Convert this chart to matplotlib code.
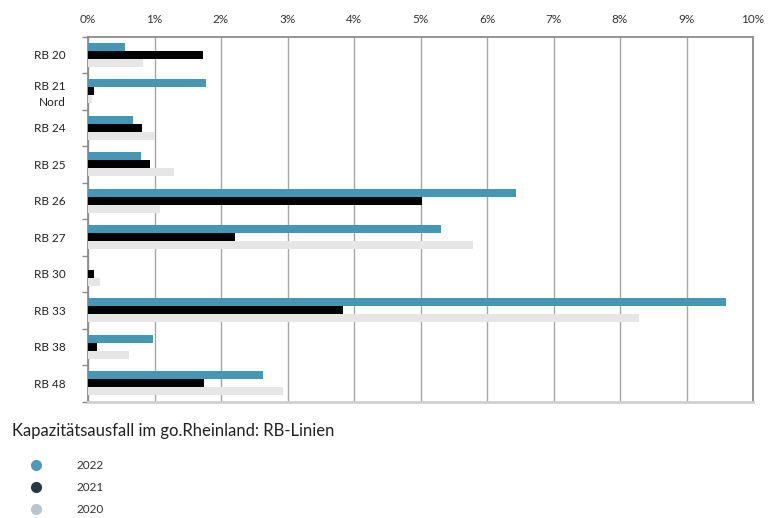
import matplotlib
matplotlib.use("Agg")
import matplotlib.pyplot as plt
from matplotlib.lines import Line2D
from matplotlib.ticker import FuncFormatter, MultipleLocator
import numpy as np

plt.rcParams['font.family'] = ['Lato', 'DejaVu Sans']

categories = ["RB 20", "RB 21\nNord", "RB 24", "RB 25", "RB 26", "RB 27", "RB 30", "RB 33", "RB 38", "RB 48"]
v2022 = [0.56, 1.78, 0.67, 0.80, 6.43, 5.31, 0.0, 9.59, 0.98, 2.63]
v2021 = [1.73, 0.09, 0.81, 0.93, 5.03, 2.21, 0.095, 3.83, 0.14, 1.75]
v2020 = [0.82, 0.065, 1.00, 1.30, 1.09, 5.79, 0.18, 8.29, 0.61, 2.93]
years = ["2022", "2021", "2020"]
bar_colors = ["#4597b5", "#000000", "#e6e6e6"]
legend_colors = ["#4a9bbb", "#253845", "#b9c4cc"]
title = "Kapazitätsausfall im go.Rheinland: RB-Linien"

fig = plt.figure(figsize=(7.74, 5.18), dpi=100)
ax = fig.add_axes([88/774, 1-401.5/518, (753-88)/774, (401.5-36.5)/518])

y = np.arange(len(categories))
h = 0.22
ax.barh(y - h, v2022, height=h, color=bar_colors[0], zorder=3)
ax.barh(y, v2021, height=h, color=bar_colors[1], zorder=3)
ax.barh(y + h, v2020, height=h, color=bar_colors[2], zorder=3)

ax.set_xlim(0, 10)
ax.set_ylim(len(categories) - 0.5, -0.5)
ax.xaxis.set_major_locator(MultipleLocator(1))
ax.xaxis.set_major_formatter(FuncFormatter(lambda v, p: f"{v:.0f}%"))
ax.xaxis.tick_top()
ax.tick_params(axis='x', length=0, pad=8, labelsize=8.5, colors="#333333")
ax.grid(axis='x', color="#a6a6a6", linewidth=1, zorder=0)

ax.set_yticks(y)
ax.set_yticklabels(categories, fontsize=8.5, color="#222222", linespacing=1.55)
ax.tick_params(axis='y', length=0, pad=16)
ax.set_yticks(np.arange(-0.5, len(categories), 1), minor=True)
ax.tick_params(axis='y', which='minor', length=4, width=1, color="#8c8c8c", direction='out')

for s in ['top', 'right', 'left']:
    ax.spines[s].set_color("#8c8c8c")
    ax.spines[s].set_linewidth(1.3)
ax.spines['bottom'].set_color("#d0d0d0")
ax.spines['bottom'].set_linewidth(2)

fig.text(12/774, 1-431/518, title, fontsize=12, va='center', ha='left', color="#222222")

handles = [Line2D([], [], marker='o', linestyle='none', markersize=7, color=c) for c in legend_colors]
fig.legend(handles, years, loc='upper left', bbox_to_anchor=(30/774, 1-460/518),
           frameon=False, fontsize=8.5, handlelength=1.0, handletextpad=2.9,
           labelspacing=0.95, borderpad=0, borderaxespad=0, labelcolor="#333333")

fig.savefig("out.png", dpi=100)
